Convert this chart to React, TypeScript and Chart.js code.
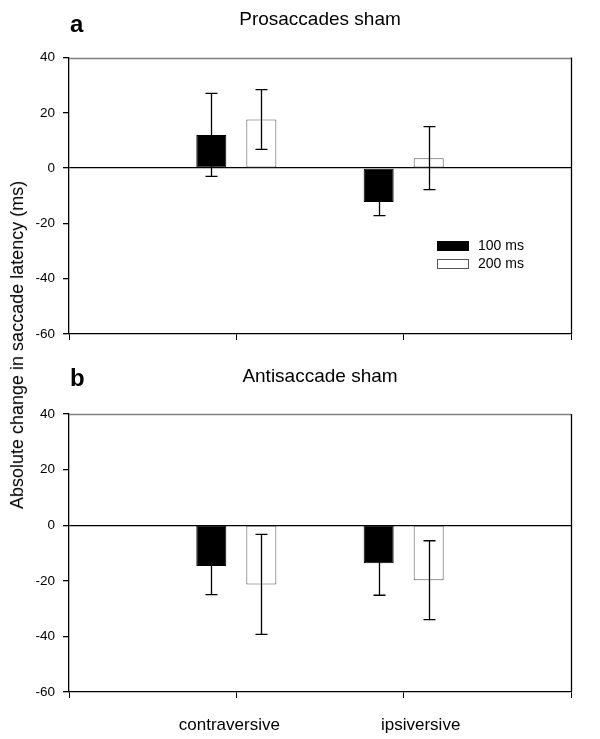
import React, { useEffect, useRef } from 'react';
import { Chart, registerables } from 'chart.js';
Chart.register(...registerables);

// ---- data ----
const categories = ['contraversive', 'ipsiversive'];
const seriesLabels = ['100 ms', '200 ms'];
const yMin = -60;
const yMax = 40;
const yStep = 20;

const proMean100 = [12, -12.3];
const proErr100 = [15, 4.9];
const proMean200 = [17.6, 3.6];
const proErr200 = [10.8, 11.4];

const antiMean100 = [-14.7, -13.7];
const antiErr100 = [10.3, 11.5];
const antiMean200 = [-21.3, -19.8];
const antiErr200 = [18, 14.2];

// ---- styles ----
const FONT = '"Liberation Sans", Arial, Helvetica, sans-serif';
const labelOffsets = [-7, 17];

const pad = (arr: (number | null)[]) => [null, ...arr, null];

const errorBarPlugin = {
  id: 'errorBars',
  afterDatasetsDraw(chart: any) {
    const ctx = chart.ctx;
    const yScale = chart.scales.y;
    chart.data.datasets.forEach((ds: any, i: number) => {
      const meta = chart.getDatasetMeta(i);
      meta.data.forEach((bar: any, j: number) => {
        const m = ds.data[j];
        const e = ds.errors ? ds.errors[j] : null;
        if (m == null || e == null) return;
        const x = Math.round(bar.x) + 0.5;
        const yt = yScale.getPixelForValue(m + e);
        const yb = yScale.getPixelForValue(m - e);
        ctx.save();
        ctx.strokeStyle = '#000';
        ctx.lineWidth = 1.3;
        ctx.beginPath();
        ctx.moveTo(x, yt);
        ctx.lineTo(x, yb);
        ctx.moveTo(x - 6, yt);
        ctx.lineTo(x + 6, yt);
        ctx.moveTo(x - 6, yb);
        ctx.lineTo(x + 6, yb);
        ctx.stroke();
        ctx.restore();
      });
    });
  },
};

const framePlugin = {
  id: 'frame',
  afterDraw(chart: any) {
    const { ctx, chartArea } = chart;
    ctx.save();
    ctx.lineWidth = 1.5;
    ctx.strokeStyle = '#808080';
    ctx.beginPath();
    ctx.moveTo(chartArea.left, Math.round(chartArea.top) + 0.5);
    ctx.lineTo(chartArea.right, Math.round(chartArea.top) + 0.5);
    ctx.stroke();
    ctx.lineWidth = 1.3;
    ctx.strokeStyle = '#000';
    ctx.beginPath();
    ctx.moveTo(Math.round(chartArea.right) + 0.5, chartArea.top);
    ctx.lineTo(Math.round(chartArea.right) + 0.5, chartArea.bottom);
    ctx.stroke();
    ctx.restore();
  },
};

const legendPlugin = {
  id: 'customLegend',
  afterDraw(chart: any) {
    const opts = chart.options.plugins.customLegend;
    if (!opts || !opts.show) return;
    const { ctx, chartArea } = chart;
    const bx = chartArea.left + 368;
    const by = chartArea.top + 183.5;
    ctx.save();
    chart.data.datasets.forEach((ds: any, i: number) => {
      const y = by + i * 18;
      ctx.fillStyle = ds.backgroundColor;
      ctx.strokeStyle = ds.borderColor;
      ctx.lineWidth = 1;
      ctx.fillRect(bx, y, 32, 10);
      ctx.strokeRect(bx + 0.5, y + 0.5, 31, 9);
      ctx.fillStyle = '#000';
      ctx.font = `14px ${FONT}`;
      ctx.textBaseline = 'middle';
      ctx.textAlign = 'left';
      ctx.fillText(ds.label, bx + 41, y + 5.5);
    });
    ctx.restore();
  },
};

const catLabelPlugin = {
  id: 'catLabels',
  afterDraw(chart: any) {
    const opts = chart.options.plugins.catLabels;
    if (!opts || !opts.show) return;
    const { ctx, chartArea } = chart;
    const xs = chart.scales.x;
    ctx.save();
    ctx.fillStyle = '#000';
    ctx.font = `17px ${FONT}`;
    ctx.textAlign = 'center';
    ctx.textBaseline = 'middle';
    categories.forEach((c, i) => {
      const x = xs.getPixelForValue(i + 1) + labelOffsets[i];
      ctx.fillText(c, x, chartArea.bottom + 33);
    });
    ctx.restore();
  },
};

function makeConfig(m100: number[], e100: number[], m200: number[], e200: number[], topPad: number, xHeight: number, legend: boolean, catLabels: boolean) {
  return {
    type: 'bar' as const,
    data: {
      labels: ['', ...categories, ''],
      datasets: [
        {
          label: seriesLabels[0],
          data: pad(m100),
          errors: pad(e100),
          backgroundColor: '#000000',
          borderColor: '#000000',
          borderWidth: 1,
          borderSkipped: false,
        },
        {
          label: seriesLabels[1],
          data: pad(m200),
          errors: pad(e200),
          backgroundColor: '#ffffff',
          borderColor: '#555555',
          borderWidth: 1,
          borderSkipped: false,
        },
      ],
    },
    options: {
      responsive: false,
      animation: false,
      events: [],
      categoryPercentage: 0.598,
      barPercentage: 0.6,
      layout: { padding: { top: topPad, right: 29, left: 0, bottom: 0 } },
      plugins: {
        legend: { display: false },
        tooltip: { enabled: false },
        title: { display: false },
        customLegend: { show: legend },
        catLabels: { show: catLabels },
      },
      scales: {
        x: {
          type: 'category',
          offset: false,
          grid: { offset: false, drawOnChartArea: false, tickLength: 6, color: '#000', tickColor: '#000' },
          border: { color: '#000', width: 1.3 },
          ticks: { display: false },
          afterFit: (s: any) => { s.height = xHeight; },
        },
        y: {
          min: yMin,
          max: yMax,
          ticks: {
            stepSize: yStep,
            color: '#000',
            font: { family: FONT, size: 13.5 },
            padding: 8,
          },
          grid: {
            drawOnChartArea: true,
            tickLength: 6,
            color: (c: any) => (c.tick && c.tick.value === 0 ? '#000' : 'rgba(0,0,0,0)'),
            tickColor: '#000',
            lineWidth: 1.3,
          },
          border: { color: '#000', width: 1.3 },
          afterFit: (s: any) => { s.width = 69; },
        },
      },
    },
    plugins: [errorBarPlugin, framePlugin, legendPlugin, catLabelPlugin],
  };
}

function Panel({ top, height, cfg }: { top: number; height: number; cfg: any }) {
  const ref = useRef<HTMLCanvasElement | null>(null);
  useEffect(() => {
    if (!ref.current) return;
    const chart = new Chart(ref.current, cfg);
    return () => chart.destroy();
  }, []);
  return (
    <canvas
      ref={ref}
      width={600}
      height={height}
      style={{ position: 'absolute', left: 0, top, width: 600, height }}
    />
  );
}

const textBase: React.CSSProperties = {
  position: 'absolute',
  fontFamily: FONT,
  color: '#000',
  whiteSpace: 'nowrap',
  lineHeight: 1,
};

export default function App() {
  const cfgA = makeConfig(proMean100, proErr100, proMean200, proErr200, 57.5, 36, true, false);
  const cfgB = makeConfig(antiMean100, antiErr100, antiMean200, antiErr200, 44, 47, false, true);
  return (
    <div style={{ position: 'absolute', left: 0, top: 0, width: 600, height: 739, background: '#fff', overflow: 'hidden' }}>
      <Panel top={0} height={370} cfg={cfgA} />
      <Panel top={370} height={369} cfg={cfgB} />
      <div style={{ ...textBase, left: 70, top: 24, transform: 'translateY(-50%)', fontSize: 24, fontWeight: 'bold' }}>a</div>
      <div style={{ ...textBase, left: 320, top: 18, transform: 'translate(-50%,-50%)', fontSize: 19 }}>Prosaccades sham</div>
      <div style={{ ...textBase, left: 70, top: 378, transform: 'translateY(-50%)', fontSize: 24, fontWeight: 'bold' }}>b</div>
      <div style={{ ...textBase, left: 320, top: 375, transform: 'translate(-50%,-50%)', fontSize: 19 }}>Antisaccade sham</div>
      <div style={{ ...textBase, left: 17, top: 345, transform: 'translate(-50%,-50%) rotate(-90deg)', fontSize: 18 }}>
        Absolute change in saccade latency (ms)
      </div>
    </div>
  );
}
